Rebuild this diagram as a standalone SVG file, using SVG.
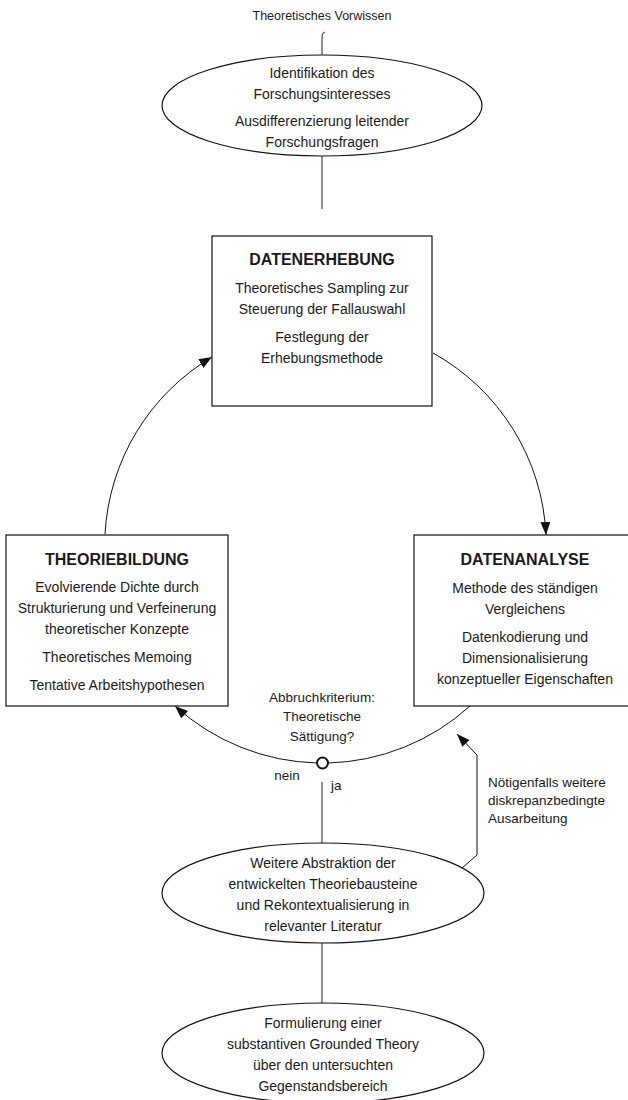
<svg xmlns="http://www.w3.org/2000/svg" width="628" height="1100" viewBox="0 0 628 1100">
<style>
text{font-family:"Liberation Sans",Arial,sans-serif;fill:#1a1a1a;text-anchor:middle}
.b{font-size:14px}
.t{font-size:16px;font-weight:bold}
.s{font-size:13.5px}
.top{font-size:12.5px}
.shape{fill:#fff;stroke:#111;stroke-width:1.2}
.arc{fill:none;stroke:#111;stroke-width:1}
.con{fill:none;stroke:#555;stroke-width:1.3}
</style>
<defs>
<marker id="ah" viewBox="0 0 13 10" refX="13" refY="5" markerWidth="13" markerHeight="10" markerUnits="userSpaceOnUse" orient="auto">
<path d="M0,0 L13,5 L0,10 z" fill="#111"/>
</marker>
</defs>
<rect width="628" height="1100" fill="#fff"/>

<g id="connectors">
<path class="con" d="M322,55 V37 Q322,33 325,32"/>
<path class="con" d="M322,156 V209"/>
<path class="con" d="M322,782 V843"/>
<path class="con" d="M322,943 V1003"/>
<path class="arc" d="M433,353 A220,220 0 0,1 546,535" marker-end="url(#ah)"/>
<path class="arc" d="M105,534 A220,220 0 0,1 212,357" marker-end="url(#ah)"/>
<path class="arc" d="M470,706 A220,220 0 0,1 328,763"/>
<path class="arc" d="M317,763 A220,220 0 0,1 175,706" marker-end="url(#ah)"/>
<path class="arc" d="M462,868 L477,855 V755 L457,734" marker-end="url(#ah)"/>
</g>

<g id="label-vorwissen">
<text class="top" x="322" y="19.5">Theoretisches Vorwissen</text>
</g>

<g id="node-forschungsinteresse">
<ellipse class="shape" cx="322" cy="105.5" rx="160" ry="50.5"/>
<text class="b" x="322" y="78">Identifikation des</text>
<text class="b" x="322" y="99">Forschungsinteresses</text>
<text class="b" x="322" y="126">Ausdifferenzierung leitender</text>
<text class="b" x="322" y="147">Forschungsfragen</text>
</g>

<g id="node-datenerhebung">
<rect class="shape" x="212" y="236" width="220" height="170"/>
<text class="t" x="322" y="265">DATENERHEBUNG</text>
<text class="b" x="322" y="293">Theoretisches Sampling zur</text>
<text class="b" x="322" y="314">Steuerung der Fallauswahl</text>
<text class="b" x="322" y="342">Festlegung der</text>
<text class="b" x="322" y="363">Erhebungsmethode</text>
</g>

<g id="node-theoriebildung">
<rect class="shape" x="6" y="535" width="222" height="171"/>
<text class="t" x="117" y="565">THEORIEBILDUNG</text>
<text class="b" x="117" y="592">Evolvierende Dichte durch</text>
<text class="b" x="117" y="613">Strukturierung und Verfeinerung</text>
<text class="b" x="117" y="634">theoretischer Konzepte</text>
<text class="b" x="117" y="662">Theoretisches Memoing</text>
<text class="b" x="117" y="690">Tentative Arbeitshypothesen</text>
</g>

<g id="node-datenanalyse">
<rect class="shape" x="414" y="535" width="222" height="171"/>
<text class="t" x="525" y="565">DATENANALYSE</text>
<text class="b" x="525" y="593">Methode des ständigen</text>
<text class="b" x="525" y="614">Vergleichens</text>
<text class="b" x="525" y="642">Datenkodierung und</text>
<text class="b" x="525" y="663">Dimensionalisierung</text>
<text class="b" x="525" y="684">konzeptueller Eigenschaften</text>
</g>

<g id="node-abbruch">
<text class="s" x="322" y="701.5">Abbruchkriterium:</text>
<text class="s" x="322" y="721">Theoretische</text>
<text class="s" x="322" y="740.5">Sättigung?</text>
<circle cx="322.5" cy="763" r="5.5" fill="#fff" stroke="#111" stroke-width="2"/>
<text class="s" x="287" y="779.5">nein</text>
<text class="s" x="331" y="790" style="text-anchor:start">ja</text>
</g>

<g id="label-feedback">
<text class="s" x="488" y="786.5" style="text-anchor:start">Nötigenfalls weitere</text>
<text class="s" x="488" y="804.5" style="text-anchor:start">diskrepanzbedingte</text>
<text class="s" x="488" y="822.5" style="text-anchor:start">Ausarbeitung</text>
</g>

<g id="node-abstraktion">
<ellipse class="shape" cx="323" cy="893" rx="161" ry="50"/>
<text class="b" x="323" y="868">Weitere Abstraktion der</text>
<text class="b" x="323" y="889">entwickelten Theoriebausteine</text>
<text class="b" x="323" y="910">und Rekontextualisierung in</text>
<text class="b" x="323" y="931">relevanter Literatur</text>
</g>

<g id="node-grounded-theory">
<ellipse class="shape" cx="323" cy="1053" rx="161" ry="50"/>
<text class="b" x="323" y="1028">Formulierung einer</text>
<text class="b" x="323" y="1049">substantiven Grounded Theory</text>
<text class="b" x="323" y="1070">über den untersuchten</text>
<text class="b" x="323" y="1091">Gegenstandsbereich</text>
</g>
</svg>
